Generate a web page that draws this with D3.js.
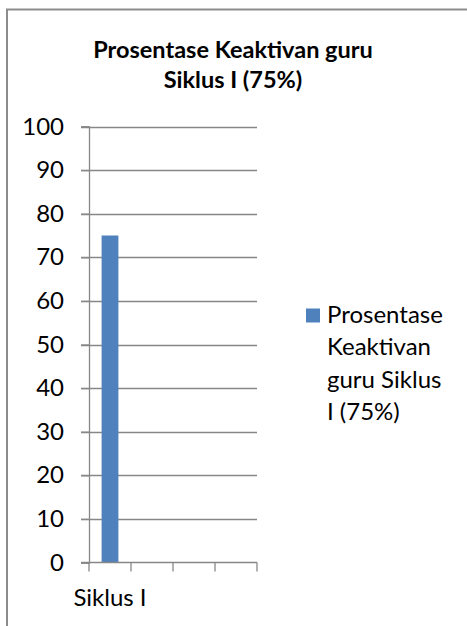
<!DOCTYPE html>
<html>
<head>
<meta charset="utf-8">
<script src="https://cdn.jsdelivr.net/npm/d3@7"></script>
<style>
  body { margin: 0; background: #fff; }
  svg { display: block; }
  text { font-family: Lato, "Open Sans", sans-serif; fill: #000; }
</style>
</head>
<body>
<svg id="chart" width="467" height="626"></svg>
<script>
// chart data
const categories = ['Siklus I', '', '', '']
const values = [75, null, null, null]
const yTicks = [0, 10, 20, 30, 40, 50, 60, 70, 80, 90, 100]
const titleLines = ['Prosentase Keaktivan guru', 'Siklus I (75%)']
const legendLines = ['Prosentase', 'Keaktivan', 'guru Siklus', 'I (75%)']

const svg = d3.select('#chart')
const width = 467, height = 626
const margin = {left: 89, right: 210, top: 126.5, bottom: 63.5}
const gridColor = '#878787'
const barColor = '#4f81bd'
const labelSize = '24px'

// outer frame (runs off the right and bottom of the picture)
svg.append('rect')
  .attr('x', 7).attr('y', 9.5)
  .attr('width', 600).attr('height', 700)
  .attr('fill', 'none')
  .attr('stroke', '#8c8c8c')
  .attr('stroke-width', 2)

// title
svg.append('text')
  .attr('text-anchor', 'middle')
  .style('font-weight', 'bold')
  .style('font-size', '23.5px')
  .selectAll('tspan')
  .data(titleLines)
  .enter()
  .append('tspan')
  .attr('x', 233)
  .attr('y', (d, i) => 58 + i * 29.5)
  .text(d => d)

const x = d3.scaleBand()
  .domain(d3.range(categories.length))
  .range([margin.left, width - margin.right])

const y = d3.scaleLinear()
  .domain([0, 100])
  .range([height - margin.bottom, margin.top])

// gridlines
svg.append('g')
  .selectAll('line')
  .data(yTicks.filter(d => d > 0))
  .enter()
  .append('line')
  .attr('x1', margin.left - 8)
  .attr('x2', width - margin.right)
  .attr('y1', d => Math.round(y(d)) + 0.5)
  .attr('y2', d => Math.round(y(d)) + 0.5)
  .attr('stroke', gridColor)
  .attr('stroke-width', 1.3)

// bars
svg.append('g')
  .selectAll('rect')
  .data(values.map((v, i) => ({v, i})).filter(d => d.v !== null))
  .enter()
  .append('rect')
  .attr('x', d => x(d.i) + x.bandwidth() * 0.3)
  .attr('width', x.bandwidth() * 0.4)
  .attr('y', d => y(d.v))
  .attr('height', d => y(0) - y(d.v))
  .attr('fill', barColor)

// y axis
const yAxis = svg.append('g')
  .attr('transform', `translate(${margin.left},0)`)
  .call(d3.axisLeft(y).tickValues(yTicks).tickSize(8).tickPadding(17))
yAxis.select('.domain').attr('stroke', gridColor).attr('stroke-width', 1.3)
yAxis.selectAll('.tick line').attr('stroke', gridColor).attr('stroke-width', 1.3)
yAxis.selectAll('.tick text')
  .style('font-family', 'Lato, "Open Sans", sans-serif')
  .style('font-size', labelSize)
  .attr('fill', '#000')

// x axis
const xEdges = d3.range(categories.length + 1).map(i => margin.left + i * x.step())
const xAxis = svg.append('g')
  .attr('transform', `translate(0,${y(0)})`)
xAxis.append('line')
  .attr('x1', margin.left - 8)
  .attr('x2', width - margin.right)
  .attr('stroke', gridColor)
  .attr('stroke-width', 1.3)
xAxis.selectAll('.xtick')
  .data(xEdges)
  .enter()
  .append('line')
  .attr('x1', d => d).attr('x2', d => d)
  .attr('y1', 0).attr('y2', 9)
  .attr('stroke', gridColor)
  .attr('stroke-width', 1.3)
xAxis.selectAll('.xlabel')
  .data(categories)
  .enter()
  .append('text')
  .attr('x', (d, i) => x(i) + x.bandwidth() / 2)
  .attr('y', 43)
  .attr('text-anchor', 'middle')
  .style('font-size', labelSize)
  .text(d => d)

// legend
const legend = svg.append('g')
legend.append('rect')
  .attr('x', 306).attr('y', 308.5)
  .attr('width', 14).attr('height', 14)
  .attr('fill', barColor)
legend.append('text')
  .style('font-size', labelSize)
  .selectAll('tspan')
  .data(legendLines)
  .enter()
  .append('tspan')
  .attr('x', 327)
  .attr('y', (d, i) => 323 + i * 32.3)
  .text(d => d)
</script>
</body>
</html>
